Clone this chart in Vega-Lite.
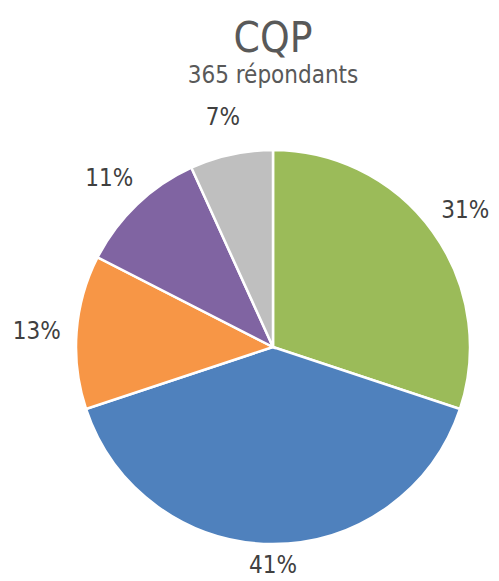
{
  "$schema": "https://vega.github.io/schema/vega-lite/v6.json",
  "width": 454,
  "height": 468,
  "autosize": "none",
  "padding": {"top": 113, "left": 46, "right": 0, "bottom": 0},
  "background": "white",
  "title": {
    "text": "CQP",
    "subtitle": "365 répondants",
    "font": "DejaVu Sans Condensed, DejaVu Sans",
    "subtitleFont": "DejaVu Sans Condensed, DejaVu Sans",
    "fontSize": 42,
    "fontWeight": "normal",
    "subtitleFontSize": 24,
    "color": "#595959",
    "subtitleColor": "#595959",
    "subtitlePadding": 3,
    "offset": 17
  },
  "data": {
    "values": [
      {"cat": "A", "value": 31, "label": "31%", "order": 1},
      {"cat": "B", "value": 41, "label": "41%", "order": 2},
      {"cat": "C", "value": 13, "label": "13%", "order": 3},
      {"cat": "D", "value": 11, "label": "11%", "order": 4},
      {"cat": "E", "value": 7, "label": "7%", "order": 5}
    ]
  },
  "encoding": {
    "theta": {"field": "value", "type": "quantitative", "stack": true},
    "order": {"field": "order", "type": "quantitative"},
    "color": {
      "field": "cat",
      "type": "nominal",
      "scale": {"domain": ["A", "B", "C", "D", "E"], "range": ["#9BBB59", "#4F81BD", "#F79646", "#8064A2", "#BFBFBF"]},
      "legend": null
    }
  },
  "layer": [
    {"mark": {"type": "arc", "outerRadius": 197, "stroke": "white", "strokeWidth": 2.5}},
    {
      "mark": {"type": "text", "radius": {"expr": "datum.cat == 'B' ? 216 : 237"}, "dy": 3, "fontSize": 24, "font": "DejaVu Sans Condensed, DejaVu Sans", "align": "center", "baseline": "middle"},
      "encoding": {"text": {"field": "label"}, "color": {"value": "#404040"}}
    }
  ]
}
